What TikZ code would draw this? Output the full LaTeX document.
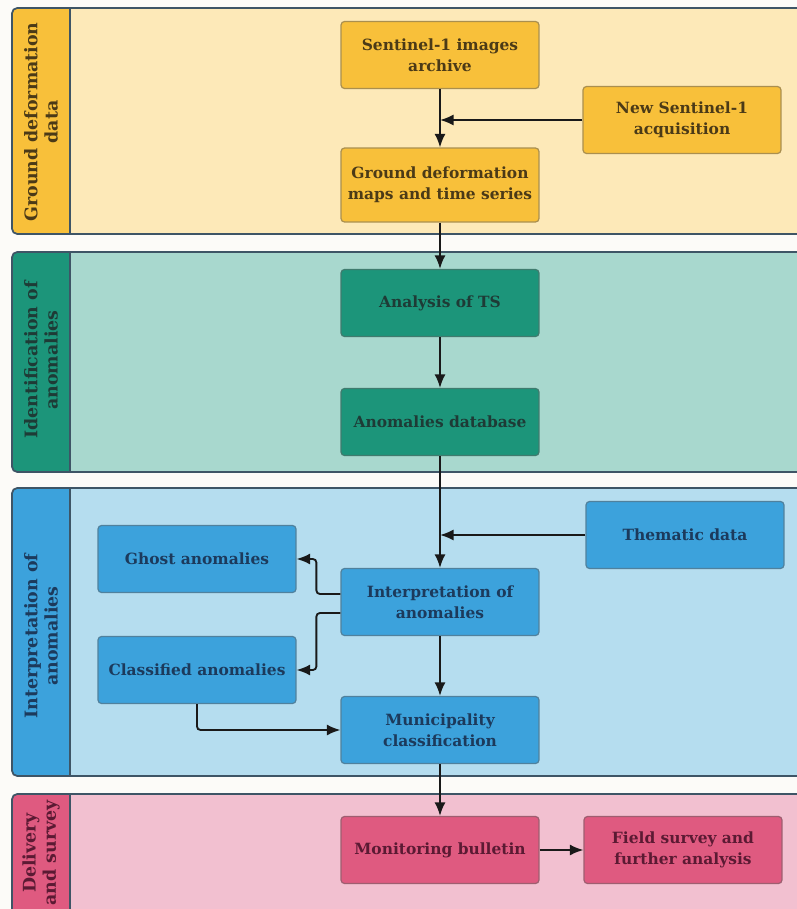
\documentclass[tikz,border=0pt]{standalone}
\usepackage{fontspec}
\setmainfont{DejaVu Serif}
\usepackage{xcolor}
\usetikzlibrary{arrows.meta,positioning}

\definecolor{pageBg}{HTML}{FCFBF8}
\definecolor{laneLine}{HTML}{3E5566}
\definecolor{ylwBg}{HTML}{FDE9B8}
\definecolor{ylwMid}{HTML}{F8C03A}
\definecolor{ylwTxt}{HTML}{4B3A17}
\definecolor{tealBg}{HTML}{A8D8CE}
\definecolor{tealMid}{HTML}{1C957A}
\definecolor{tealTxt}{HTML}{1E3B36}
\definecolor{blueBg}{HTML}{B5DDEF}
\definecolor{blueMid}{HTML}{3CA2DC}
\definecolor{blueTxt}{HTML}{1C3A5C}
\definecolor{pinkBg}{HTML}{F2C0D0}
\definecolor{pinkMid}{HTML}{DF5A80}
\definecolor{pinkTxt}{HTML}{5B1A33}

\tikzset{
  lane/.style={draw=laneLine, line width=1pt, rounded corners=3pt},
  lanelabel/.style={rotate=90, align=center, font=\bfseries\fontsize{9.9}{11.5}\selectfont},
  box/.style={rounded corners=2pt, line width=0.7pt, minimum width=3.96cm,
    minimum height=1.34cm, align=center, font=\bfseries\fontsize{8.8}{12}\selectfont},
  ylwbox/.style={box, fill=ylwMid, draw=ylwMid!60!black!80, text=ylwTxt},
  tealbox/.style={box, fill=tealMid, draw=tealMid!60!black!80, text=tealTxt},
  bluebox/.style={box, fill=blueMid, draw=blueMid!60!black!80, text=blueTxt},
  pinkbox/.style={box, fill=pinkMid, draw=pinkMid!60!black!80, text=pinkTxt},
  flow/.style={draw=black!90, line width=1.05pt, -{Latex[length=2.7mm,width=2.2mm]}},
}

\begin{document}
\begin{tikzpicture}[x=0.02cm, y=-0.02cm]
    \path[use as bounding box] (0,0) rectangle (797,909);
    \fill[pageBg] (0,0) rectangle (797,909);
    \clip (0,0) rectangle (797,909);

    % swim lanes
    \foreach \top/\bot/\bg/\mid in {8/234/ylwBg/ylwMid, 252/472/tealBg/tealMid,
                                   488/776/blueBg/blueMid, 794/940/pinkBg/pinkMid} {
        \begin{scope}
            \clip[rounded corners=3pt] (12,\top) rectangle (830,\bot);
            \fill[\bg] (12,\top) rectangle (830,\bot);
            \fill[\mid] (12,\top) rectangle (70,\bot);
        \end{scope}
        \draw[lane] (12,\top) rectangle (830,\bot);
        \draw[laneLine, line width=1pt] (70,\top) -- (70,\bot);
    }

    \node[lanelabel, text=ylwTxt]  (labGround) at (41,122) {Ground deformation\\data};
    \node[lanelabel, text=tealTxt] (labIdent)  at (41,360) {Identification of\\anomalies};
    \node[lanelabel, text=blueTxt] (labInterp) at (41,636) {Interpretation of\\anomalies};
    \node[lanelabel, text=pinkTxt] (labDeliv)  at (41,853) {Delivery\\and survey};

    % ground deformation data
    \node[ylwbox] (archive) at (440,55)  {Sentinel-1 images\\archive};
    \node[ylwbox] (newacq)  at (682,120) {New Sentinel-1\\acquisition};
    \node[ylwbox, minimum height=1.48cm] (maps) at (440,185) {Ground deformation\\maps and time series};

    % identification
    \node[tealbox] (analysis) at (440,303) {Analysis of TS};
    \node[tealbox] (database) at (440,422) {Anomalies database};

    % interpretation
    \node[bluebox] (thematic)   at (685,535) {Thematic data};
    \node[bluebox] (ghost)      at (197,559) {Ghost anomalies};
    \node[bluebox] (interp)     at (440,602) {Interpretation of\\anomalies};
    \node[bluebox] (classified) at (197,670) {Classified anomalies};
    \node[bluebox] (munic)      at (440,730) {Municipality\\classification};

    % delivery
    \node[pinkbox] (bulletin) at (440,850) {Monitoring bulletin};
    \node[pinkbox] (survey)   at (683,850) {Field survey and\\further analysis};

    \draw[flow] (archive) -- (maps);
    \draw[flow] (newacq) -- (newacq -| archive);
    \draw[flow] (maps) -- (analysis);
    \draw[flow] (analysis) -- (database);
    \draw[flow] (database) -- (interp);
    \draw[flow] (thematic) -- (thematic -| interp);
    \draw[flow, rounded corners=2pt] ([yshift=0.16cm]interp.west) -- ++(-24,0) |- (ghost.east);
    \draw[flow, rounded corners=2pt] ([yshift=-0.22cm]interp.west) -- ++(-24,0) |- (classified.east);
    \draw[flow, rounded corners=2pt] (classified.south) |- (munic.west);
    \draw[flow] (interp) -- (munic);
    \draw[flow] (munic) -- (bulletin);
    \draw[flow] (bulletin) -- (survey);

\end{tikzpicture}
\end{document}
